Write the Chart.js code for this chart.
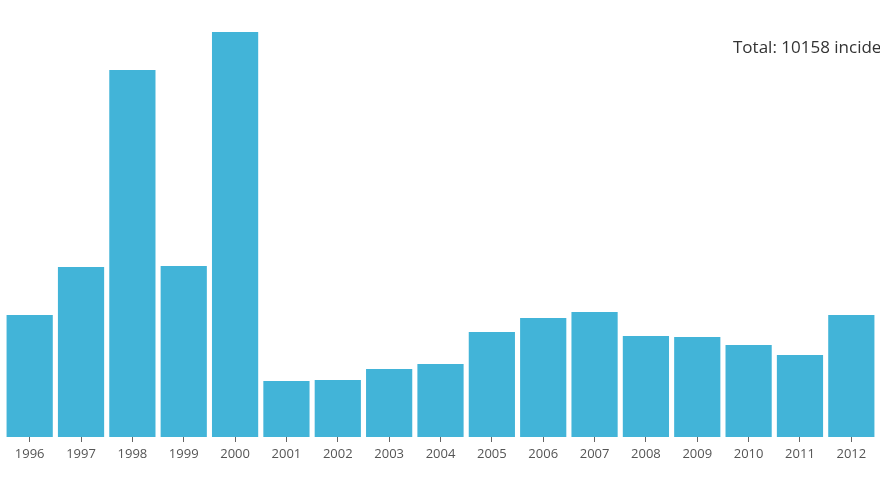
<!DOCTYPE html>
<html>
<head>
<meta charset="utf-8">
<script src="https://cdn.jsdelivr.net/npm/chart.js@4"></script>
<style>
  html, body { margin: 0; padding: 0; background: #fff; }
  #wrap { width: 880px; height: 495px; }
</style>
</head>
<body>
<div id="wrap"><canvas id="myChart"></canvas></div>
<script>
// Data
const years = ['1996', '1997', '1998', '1999', '2000', '2001', '2002', '2003', '2004',
               '2005', '2006', '2007', '2008', '2009', '2010', '2011', '2012'];
const incidents = [610, 850, 1835, 855, 2025, 280, 285, 340, 365,
                   525, 595, 625, 505, 500, 460, 410, 610];
const totalLabel = 'Total: 10158 incidents';

// Text in the upper right corner
const totalText = {
    id: 'totalText',
    afterDraw(chart) {
        const ctx = chart.ctx;
        ctx.save();
        ctx.font = '17px "Open Sans", sans-serif';
        ctx.fillStyle = '#333';
        ctx.textBaseline = 'alphabetic';
        ctx.fillText(totalLabel, 733, 53);
        ctx.restore();
    }
};

const ctx = document.getElementById('myChart').getContext('2d');
new Chart(ctx, {
    type: 'bar',
    data: {
        labels: years,
        datasets: [{
            data: incidents,
            backgroundColor: '#42b4d8',
            barPercentage: 0.9,
            categoryPercentage: 1.0
        }]
    },
    options: {
        responsive: true,
        maintainAspectRatio: false,
        animation: false,
        layout: { padding: { left: 4, right: 3, top: 0, bottom: 0 } },
        plugins: { legend: { display: false }, tooltip: { enabled: false } },
        scales: {
            x: {
                offset: true,
                grid: { offset: false, drawOnChartArea: false, tickLength: 5, color: '#666' },
                border: { display: false },
                ticks: { color: '#555', font: { family: '"Open Sans", sans-serif', size: 13 }, padding: 4, maxRotation: 0 },
                afterFit(scale) { scale.height = 58; }
            },
            y: {
                display: false,
                min: 0,
                max: 2185
            }
        }
    },
    plugins: [totalText]
});
</script>
</body>
</html>
